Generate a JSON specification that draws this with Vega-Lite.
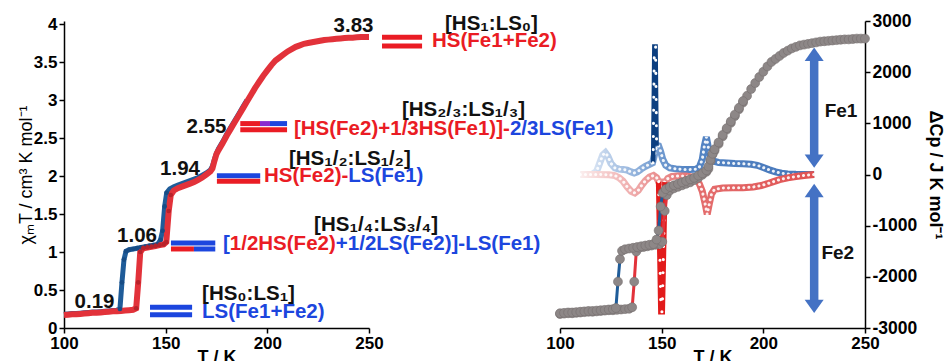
{
  "$schema": "https://vega.github.io/schema/vega-lite/v6.json",
  "padding": {"left": 17, "top": 12, "right": 0, "bottom": 0},
  "bounds": "flush",
  "spacing": 191,
  "resolve": {"scale": {"x": "independent", "y": "independent"}},
  "config": {
    "view": {"stroke": null},
    "font": "Liberation Sans",
    "axis": {
      "grid": false, "domainColor": "#000", "domainWidth": 1.5, "tickColor": "#000", "tickWidth": 1.5, "tickSize": 5,
      "labelFont": "Liberation Sans", "labelFontWeight": "bold", "labelFontSize": 17, "labelColor": "#000", "labelPadding": 2, "labelFlush": false,
      "titleFont": "Liberation Sans", "titleFontSize": 18, "titleColor": "#000"
    }
  },
  "datasets": {
    "chi": [
      {"run":"heating","T":100,"chi":0.17},{"run":"heating","T":102,"chi":0.175},{"run":"heating","T":104,"chi":0.18},{"run":"heating","T":106,"chi":0.18},{"run":"heating","T":108,"chi":0.185},{"run":"heating","T":110,"chi":0.19},{"run":"heating","T":112,"chi":0.195},{"run":"heating","T":114,"chi":0.2},{"run":"heating","T":116,"chi":0.2},{"run":"heating","T":118,"chi":0.205},{"run":"heating","T":120,"chi":0.21},{"run":"heating","T":122,"chi":0.215},{"run":"heating","T":124,"chi":0.22},{"run":"heating","T":126,"chi":0.22},{"run":"heating","T":128,"chi":0.225},{"run":"heating","T":130,"chi":0.23},{"run":"heating","T":132,"chi":0.235},{"run":"heating","T":134,"chi":0.24},{"run":"heating","T":135.5,"chi":0.26},{"run":"heating","T":136.5,"chi":0.6},{"run":"heating","T":137.5,"chi":1.0},{"run":"heating","T":139,"chi":1.05},{"run":"heating","T":141,"chi":1.06},{"run":"heating","T":143,"chi":1.07},{"run":"heating","T":145,"chi":1.08},{"run":"heating","T":147,"chi":1.09},{"run":"heating","T":149,"chi":1.1},{"run":"heating","T":150.3,"chi":1.13},{"run":"heating","T":151.5,"chi":1.54},{"run":"heating","T":152.5,"chi":1.75},{"run":"heating","T":154,"chi":1.81},{"run":"heating","T":156,"chi":1.84},{"run":"heating","T":158,"chi":1.86},{"run":"heating","T":160,"chi":1.88},{"run":"heating","T":162,"chi":1.9},{"run":"heating","T":164,"chi":1.92},{"run":"heating","T":166,"chi":1.95},{"run":"heating","T":168,"chi":1.98},{"run":"heating","T":170,"chi":2.02},{"run":"heating","T":172,"chi":2.06},{"run":"heating","T":173,"chi":2.1},{"run":"heating","T":174,"chi":2.2},{"run":"heating","T":175,"chi":2.29},{"run":"heating","T":176,"chi":2.34},{"run":"heating","T":178,"chi":2.43},{"run":"heating","T":180,"chi":2.53},{"run":"heating","T":182,"chi":2.62},{"run":"heating","T":184,"chi":2.71},{"run":"heating","T":186,"chi":2.8},{"run":"heating","T":188,"chi":2.89},{"run":"heating","T":190,"chi":2.98},{"run":"heating","T":192,"chi":3.07},{"run":"heating","T":194,"chi":3.16},{"run":"heating","T":196,"chi":3.24},{"run":"heating","T":198,"chi":3.32},{"run":"heating","T":200,"chi":3.39},{"run":"heating","T":202,"chi":3.46},{"run":"heating","T":204,"chi":3.52},{"run":"heating","T":206,"chi":3.56},{"run":"heating","T":208,"chi":3.6},{"run":"heating","T":210,"chi":3.64},{"run":"heating","T":212,"chi":3.67},{"run":"heating","T":214,"chi":3.7},{"run":"heating","T":216,"chi":3.72},{"run":"heating","T":218,"chi":3.74},{"run":"heating","T":220,"chi":3.75},{"run":"heating","T":222,"chi":3.76},{"run":"heating","T":224,"chi":3.77},{"run":"heating","T":226,"chi":3.78},{"run":"heating","T":228,"chi":3.79},{"run":"heating","T":230,"chi":3.795},{"run":"heating","T":232,"chi":3.8},{"run":"heating","T":234,"chi":3.805},{"run":"heating","T":236,"chi":3.81},{"run":"heating","T":238,"chi":3.815},{"run":"heating","T":240,"chi":3.82},{"run":"heating","T":242,"chi":3.82},{"run":"heating","T":244,"chi":3.825},{"run":"heating","T":246,"chi":3.83},{"run":"heating","T":248,"chi":3.83},{"run":"heating","T":250,"chi":3.83},
      {"run":"cooling","T":100,"chi":0.18},{"run":"cooling","T":102,"chi":0.185},{"run":"cooling","T":104,"chi":0.19},{"run":"cooling","T":106,"chi":0.19},{"run":"cooling","T":108,"chi":0.195},{"run":"cooling","T":110,"chi":0.2},{"run":"cooling","T":112,"chi":0.205},{"run":"cooling","T":114,"chi":0.21},{"run":"cooling","T":116,"chi":0.21},{"run":"cooling","T":118,"chi":0.215},{"run":"cooling","T":120,"chi":0.22},{"run":"cooling","T":122,"chi":0.225},{"run":"cooling","T":124,"chi":0.23},{"run":"cooling","T":126,"chi":0.235},{"run":"cooling","T":127.5,"chi":0.25},{"run":"cooling","T":128.5,"chi":0.6},{"run":"cooling","T":129.5,"chi":0.9},{"run":"cooling","T":130.5,"chi":1.01},{"run":"cooling","T":132,"chi":1.03},{"run":"cooling","T":134,"chi":1.04},{"run":"cooling","T":136,"chi":1.05},{"run":"cooling","T":138,"chi":1.06},{"run":"cooling","T":140,"chi":1.07},{"run":"cooling","T":142,"chi":1.08},{"run":"cooling","T":144,"chi":1.09},{"run":"cooling","T":146,"chi":1.1},{"run":"cooling","T":147.5,"chi":1.16},{"run":"cooling","T":148.5,"chi":1.28},{"run":"cooling","T":149.5,"chi":1.6},{"run":"cooling","T":150.5,"chi":1.78},{"run":"cooling","T":152,"chi":1.83},{"run":"cooling","T":154,"chi":1.86},{"run":"cooling","T":156,"chi":1.88},{"run":"cooling","T":158,"chi":1.9},{"run":"cooling","T":160,"chi":1.92},{"run":"cooling","T":162,"chi":1.94},{"run":"cooling","T":164,"chi":1.96},{"run":"cooling","T":166,"chi":1.98},{"run":"cooling","T":168,"chi":2.01},{"run":"cooling","T":170,"chi":2.04},{"run":"cooling","T":172,"chi":2.08},{"run":"cooling","T":173,"chi":2.13},{"run":"cooling","T":174,"chi":2.22},{"run":"cooling","T":175,"chi":2.3},{"run":"cooling","T":176,"chi":2.36},{"run":"cooling","T":178,"chi":2.45},{"run":"cooling","T":180,"chi":2.55},{"run":"cooling","T":182,"chi":2.64},{"run":"cooling","T":184,"chi":2.73},{"run":"cooling","T":186,"chi":2.82},{"run":"cooling","T":188,"chi":2.91},{"run":"cooling","T":190,"chi":3.0}
    ],
    "dcp": [
      {"series":"Fe1","T":110,"dcp":0},{"series":"Fe1","T":113,"dcp":0},{"series":"Fe1","T":116,"dcp":5},{"series":"Fe1","T":118,"dcp":60},{"series":"Fe1","T":119.5,"dcp":220},{"series":"Fe1","T":121,"dcp":380},{"series":"Fe1","T":122.3,"dcp":425},{"series":"Fe1","T":123.5,"dcp":360},{"series":"Fe1","T":125,"dcp":220},{"series":"Fe1","T":127,"dcp":130},{"series":"Fe1","T":129,"dcp":105},{"series":"Fe1","T":131,"dcp":100},{"series":"Fe1","T":133,"dcp":85},{"series":"Fe1","T":135,"dcp":50},{"series":"Fe1","T":136.5,"dcp":30},{"series":"Fe1","T":138,"dcp":50},{"series":"Fe1","T":140,"dcp":110},{"series":"Fe1","T":142,"dcp":160},{"series":"Fe1","T":144,"dcp":200},{"series":"Fe1","T":145.5,"dcp":230},{"series":"Fe1","T":147.6,"dcp":570},{"series":"Fe1","T":148.5,"dcp":560},{"series":"Fe1","T":149.5,"dcp":450},{"series":"Fe1","T":150.5,"dcp":300},{"series":"Fe1","T":152,"dcp":180},{"series":"Fe1","T":154,"dcp":130},{"series":"Fe1","T":157,"dcp":110},{"series":"Fe1","T":160,"dcp":100},{"series":"Fe1","T":164,"dcp":100},{"series":"Fe1","T":167,"dcp":105},{"series":"Fe1","T":168.5,"dcp":140},{"series":"Fe1","T":170,"dcp":300},{"series":"Fe1","T":171,"dcp":560},{"series":"Fe1","T":172,"dcp":730},{"series":"Fe1","T":173,"dcp":520},{"series":"Fe1","T":174,"dcp":330},{"series":"Fe1","T":175.5,"dcp":260},{"series":"Fe1","T":178,"dcp":235},{"series":"Fe1","T":182,"dcp":225},{"series":"Fe1","T":186,"dcp":215},{"series":"Fe1","T":190,"dcp":210},{"series":"Fe1","T":194,"dcp":200},{"series":"Fe1","T":197,"dcp":180},{"series":"Fe1","T":200,"dcp":135},{"series":"Fe1","T":203,"dcp":90},{"series":"Fe1","T":206,"dcp":50},{"series":"Fe1","T":209,"dcp":25},{"series":"Fe1","T":212,"dcp":12},{"series":"Fe1","T":216,"dcp":4},{"series":"Fe1","T":220,"dcp":1},{"series":"Fe1","T":225,"dcp":0},
      {"series":"Fe2","T":110,"dcp":0},{"series":"Fe2","T":118,"dcp":0},{"series":"Fe2","T":124,"dcp":-5},{"series":"Fe2","T":127,"dcp":-20},{"series":"Fe2","T":129,"dcp":-60},{"series":"Fe2","T":131,"dcp":-130},{"series":"Fe2","T":133,"dcp":-240},{"series":"Fe2","T":135,"dcp":-330},{"series":"Fe2","T":136.8,"dcp":-360},{"series":"Fe2","T":138.5,"dcp":-310},{"series":"Fe2","T":140,"dcp":-220},{"series":"Fe2","T":142,"dcp":-120},{"series":"Fe2","T":144,"dcp":-50},{"series":"Fe2","T":146,"dcp":-20},{"series":"Fe2","T":147.5,"dcp":-60},{"series":"Fe2","T":148.5,"dcp":-140},{"series":"Fe2","T":151.8,"dcp":-150},{"series":"Fe2","T":153,"dcp":-80},{"series":"Fe2","T":155,"dcp":-40},{"series":"Fe2","T":158,"dcp":-30},{"series":"Fe2","T":162,"dcp":-30},{"series":"Fe2","T":165,"dcp":-50},{"series":"Fe2","T":167,"dcp":-100},{"series":"Fe2","T":168.5,"dcp":-180},{"series":"Fe2","T":170,"dcp":-330},{"series":"Fe2","T":171.3,"dcp":-560},{"series":"Fe2","T":172.4,"dcp":-780},{"series":"Fe2","T":173.5,"dcp":-560},{"series":"Fe2","T":174.5,"dcp":-380},{"series":"Fe2","T":176,"dcp":-290},{"series":"Fe2","T":180,"dcp":-265},{"series":"Fe2","T":185,"dcp":-260},{"series":"Fe2","T":190,"dcp":-260},{"series":"Fe2","T":195,"dcp":-245},{"series":"Fe2","T":199,"dcp":-215},{"series":"Fe2","T":202,"dcp":-180},{"series":"Fe2","T":205,"dcp":-140},{"series":"Fe2","T":208,"dcp":-100},{"series":"Fe2","T":212,"dcp":-65},{"series":"Fe2","T":216,"dcp":-40},{"series":"Fe2","T":220,"dcp":-18},{"series":"Fe2","T":225,"dcp":0},
      {"series":"Fe1spike","T":145.8,"dcp":230},{"series":"Fe1spike","T":146.4,"dcp":2500},{"series":"Fe1spike","T":147.0,"dcp":2500},{"series":"Fe1spike","T":147.5,"dcp":560},
      {"series":"Fe2spike","T":148.5,"dcp":-140},{"series":"Fe2spike","T":149.6,"dcp":-2680},{"series":"Fe2spike","T":150.3,"dcp":-2680},{"series":"Fe2spike","T":151.6,"dcp":-150}
    ],
    "bars": [
      {"state":"LS","T":142.3,"T2":163.0,"chi":0.272},{"state":"LS","T":142.3,"T2":163.0,"chi":0.175},
      {"state":"LS","T":152.6,"T2":174.4,"chi":1.118},{"state":"HS","T":152.6,"T2":163.9,"chi":1.04},{"state":"LS","T":163.9,"T2":174.4,"chi":1.04},
      {"state":"LS","T":175.2,"T2":196.5,"chi":2.004},{"state":"HS","T":175.2,"T2":196.5,"chi":1.93},
      {"state":"HS","T":186.7,"T2":196.4,"chi":2.69},{"state":"mixed","T":196.4,"T2":201.3,"chi":2.69},{"state":"LS","T":201.3,"T2":209.7,"chi":2.69},{"state":"HS","T":186.7,"T2":209.7,"chi":2.61},
      {"state":"HS","T":256.4,"T2":276.1,"chi":3.825},{"state":"HS","T":256.4,"T2":276.1,"chi":3.71}
    ],
    "labels": [
      {"kind":"value","state":"label","T":115.0,"chi":0.342,"text":"0.19"},
      {"kind":"value","state":"label","T":135.9,"chi":1.21,"text":"1.06"},
      {"kind":"value","state":"label","T":157.05,"chi":2.09,"text":"1.94"},
      {"kind":"value","state":"label","T":170.1,"chi":2.645,"text":"2.55"},
      {"kind":"value","state":"label","T":242.4,"chi":3.97,"text":"3.83"},
      {"kind":"state","state":"label","T":167.9,"chi":0.447,"text":"[HS₀:LS₁]"},
      {"kind":"state","state":"LS","T":167.9,"chi":0.21,"text":"LS(Fe1+Fe2)"},
      {"kind":"state","state":"label","T":223.0,"chi":1.355,"text":"[HS₁/₄:LS₃/₄]"},
      {"kind":"state","state":"LS","T":178.2,"chi":1.105,"text":"["},
      {"kind":"state","state":"HS","T":181.55,"chi":1.105,"text":"1/2HS(Fe2)"},
      {"kind":"state","state":"LS","T":233.7,"chi":1.105,"text":"+1/2LS(Fe2)]-LS(Fe1)"},
      {"kind":"state","state":"label","T":210.65,"chi":2.224,"text":"[HS₁/₂:LS₁/₂]"},
      {"kind":"state","state":"HS","T":198.36,"chi":2.0,"text":"HS(Fe2)-"},
      {"kind":"state","state":"LS","T":239.8,"chi":2.0,"text":"LS(Fe1)"},
      {"kind":"state","state":"label","T":266.2,"chi":2.868,"text":"[HS₂/₃:LS₁/₃]"},
      {"kind":"state","state":"HS","T":213.1,"chi":2.618,"text":"[HS(Fe2)+1/3HS(Fe1)]-"},
      {"kind":"state","state":"LS","T":319.3,"chi":2.618,"text":"2/3LS(Fe1)"},
      {"kind":"state","state":"label","T":287.4,"chi":4.0,"text":"[HS₁:LS₀]"},
      {"kind":"state","state":"HS","T":281.0,"chi":3.776,"text":"HS(Fe1+Fe2)"}
    ],
    "shafts": [
      {"site":"Fe1","T":225,"dcp":2350,"dcp2":260},
      {"site":"Fe2","T":225,"dcp":-313,"dcp2":-2579}
    ],
    "heads": [
      {"dir":"up","T":225,"dcp":2350},{"dir":"down","T":225,"dcp":260},
      {"dir":"up","T":225,"dcp":-313},{"dir":"down","T":225,"dcp":-2579}
    ],
    "sites": [
      {"T":238.2,"dcp":1240,"text":"Fe1"},
      {"T":236.6,"dcp":-1530,"text":"Fe2"}
    ]
  },
  "hconcat": [
    {
      "width": 305,
      "height": 307,
      "encoding": {
        "x": {"field": "T", "type": "quantitative", "scale": {"domain": [100, 250], "nice": false},
              "axis": {"values": [100, 150, 200, 250], "title": "T / K", "titleFontWeight": "bold", "titlePadding": -3}},
        "y": {"field": "chi", "type": "quantitative", "scale": {"domain": [0, 4.04], "nice": false},
              "axis": {"values": [0, 0.5, 1, 1.5, 2, 2.5, 3, 3.5, 4], "format": "~g", "title": "χₘT / cm³ K mol⁻¹", "titleFontWeight": "normal", "titlePadding": -2}}
      },
      "layer": [
        {"data": {"name": "chi"}, "transform": [{"filter": "datum.run === 'cooling'"}],
         "mark": {"type": "line", "stroke": "#1f5c99", "strokeWidth": 5}},
        {"data": {"name": "chi"}, "transform": [{"filter": "datum.run === 'heating'"}],
         "mark": {"type": "line", "stroke": "#e2323a", "strokeWidth": 6}},
        {"data": {"name": "chi"}, "transform": [{"filter": "datum.run === 'cooling' && datum.T > 126 && datum.T < 151"}],
         "mark": {"type": "point", "filled": true, "color": "#174c85", "size": 22, "opacity": 1}},
        {"data": {"name": "chi"}, "transform": [{"filter": "datum.run === 'heating' && datum.T > 135 && datum.T < 153"}],
         "mark": {"type": "point", "filled": true, "color": "#b8222a", "size": 22, "opacity": 1}},
        {"data": {"name": "bars"},
         "mark": {"type": "rule", "strokeWidth": 5},
         "encoding": {"x2": {"field": "T2"},
                      "color": {"field": "state", "type": "nominal", "legend": null,
                                "scale": {"domain": ["HS", "LS", "mixed", "label"], "range": ["#ea1c24", "#1c46de", "#8a2bd0", "#111111"]}}}},
        {"data": {"name": "labels"}, "transform": [{"filter": "datum.kind === 'value'"}],
         "mark": {"type": "text", "align": "center", "baseline": "middle", "fontSize": 20.5, "fontWeight": "bold", "font": "Liberation Sans"},
         "encoding": {"text": {"field": "text"},
                      "color": {"field": "state", "type": "nominal", "legend": null}}},
        {"data": {"name": "labels"}, "transform": [{"filter": "datum.kind === 'state'"}],
         "mark": {"type": "text", "align": "left", "baseline": "middle", "fontSize": 20.5, "fontWeight": "bold", "font": "Liberation Sans"},
         "encoding": {"text": {"field": "text"},
                      "color": {"field": "state", "type": "nominal", "legend": null}}}
      ]
    },
    {
      "width": 305,
      "height": 307,
      "resolve": {"scale": {"y": "independent"}},
      "layer": [
        {
          "data": {"name": "dcp"},
          "encoding": {
            "x": {"field": "T", "type": "quantitative", "scale": {"domain": [100, 250], "nice": false},
                  "axis": {"values": [100, 150, 200, 250], "title": "T / K", "titleFontWeight": "bold", "titlePadding": -3}},
            "y": {"field": "dcp", "type": "quantitative", "scale": {"domain": [-3000, 3000], "nice": false},
                  "axis": {"orient": "right", "values": [-3000, -2000, -1000, 0, 1000, 2000, 3000], "labelExpr": "'' + datum.value", "labelFontSize": 17.5, "title": "ΔCp / J K mol⁻¹", "titleFontWeight": "bold", "titleAngle": 90, "titlePadding": 9}}
          },
          "layer": [
            {"transform": [{"filter": "datum.series === 'Fe1'"}],
             "mark": {"type": "line", "strokeWidth": 7,
                      "stroke": {"gradient": "linear", "x1": 0, "y1": 0, "x2": 1, "y2": 0,
                                 "stops": [{"offset": 0, "color": "#eef3fa"}, {"offset": 0.12, "color": "#bcd0ea"}, {"offset": 0.28, "color": "#82a7d6"}, {"offset": 0.45, "color": "#5585c4"}, {"offset": 1, "color": "#4677ba"}]}}},
            {"transform": [{"filter": "datum.series === 'Fe1'"}],
             "mark": {"type": "line", "strokeWidth": 3, "stroke": "#ffffff", "strokeDash": [0.1, 5], "strokeCap": "round", "opacity": 0.9}},
            {"transform": [{"filter": "datum.series === 'Fe2'"}],
             "mark": {"type": "line", "strokeWidth": 7,
                      "stroke": {"gradient": "linear", "x1": 0, "y1": 0, "x2": 1, "y2": 0,
                                 "stops": [{"offset": 0, "color": "#fbeeee"}, {"offset": 0.15, "color": "#f3c0c0"}, {"offset": 0.3, "color": "#eb9797"}, {"offset": 0.5, "color": "#e46e6e"}, {"offset": 1, "color": "#e05252"}]}}},
            {"transform": [{"filter": "datum.series === 'Fe2'"}],
             "mark": {"type": "line", "strokeWidth": 3, "stroke": "#ffffff", "strokeDash": [0.1, 5], "strokeCap": "round", "opacity": 0.9}},
            {"transform": [{"filter": "datum.series === 'Fe1spike'"}],
             "mark": {"type": "line", "strokeWidth": 4.5, "stroke": "#0c3f80"}},
            {"transform": [{"filter": "datum.series === 'Fe2spike'"}],
             "mark": {"type": "line", "strokeWidth": 5.5, "stroke": "#e21b1b"}},
            {"transform": [{"filter": "datum.series === 'Fe1spike' || datum.series === 'Fe2spike'"}],
             "mark": {"type": "line", "strokeWidth": 3, "stroke": "#ffffff", "strokeDash": [0.1, 13], "strokeCap": "round"},
             "encoding": {"detail": {"field": "series"}}}
          ]
        },
        {
          "data": {"name": "chi"},
          "encoding": {
            "x": {"field": "T", "type": "quantitative", "scale": {"domain": [100, 250], "nice": false},
                  "axis": {"values": [100, 150, 200, 250], "title": "T / K", "titleFontWeight": "bold", "titlePadding": -3}},
            "y": {"field": "chi", "type": "quantitative", "scale": {"domain": [-0.016, 4.064], "nice": false}, "axis": null}
          },
          "layer": [
            {"transform": [{"filter": "datum.run === 'cooling'"}],
             "mark": {"type": "line", "stroke": "#1f5c99", "strokeWidth": 3}},
            {"transform": [{"filter": "datum.run === 'heating'"}],
             "mark": {"type": "line", "stroke": "#e2323a", "strokeWidth": 3}},
            {"mark": {"type": "point", "shape": "circle", "filled": true, "size": 80, "fill": "#8d8787", "stroke": "#766f6f", "strokeWidth": 0.6, "opacity": 1}}
          ]
        },
        {
          "encoding": {
            "x": {"field": "T", "type": "quantitative", "scale": {"domain": [100, 250], "nice": false},
                  "axis": {"values": [100, 150, 200, 250], "title": "T / K", "titleFontWeight": "bold", "titlePadding": -3}},
            "y": {"field": "dcp", "type": "quantitative", "scale": {"domain": [-3000, 3000], "nice": false}, "axis": null}
          },
          "layer": [
            {"data": {"name": "shafts"},
             "mark": {"type": "rule", "strokeWidth": 8.5, "color": "#4472c4"},
             "encoding": {"y2": {"field": "dcp2"}}},
            {"data": {"name": "heads"},
             "mark": {"type": "point", "filled": true, "size": 361, "color": "#4472c4", "opacity": 1},
             "encoding": {"shape": {"field": "dir", "type": "nominal", "legend": null,
                                    "scale": {"domain": ["up", "down"], "range": ["M-1,0.7L0,-0.7L1,0.7Z", "M-1,-0.7L0,0.7L1,-0.7Z"]}}}},
            {"data": {"name": "sites"},
             "mark": {"type": "text", "align": "center", "baseline": "middle", "fontSize": 19, "fontWeight": "bold", "color": "#111111", "font": "Liberation Sans"},
             "encoding": {"text": {"field": "text"}}}
          ]
        }
      ]
    }
  ]
}
